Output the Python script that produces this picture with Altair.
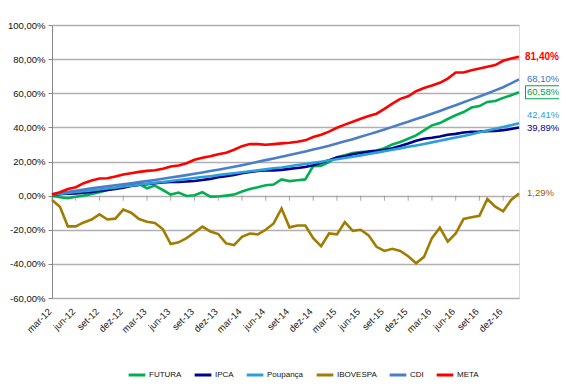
import altair as alt
import pandas as pd

MESES = ["jan", "fev", "mar", "abr", "mai", "jun", "jul", "ago", "set", "out", "nov", "dez"]
months = []
for yy in range(12, 18):
    for mi, m in enumerate(MESES):
        if (yy == 12 and mi < 2) or (yy == 17 and mi > 1):
            continue
        months.append(f"{m}-{yy}")

tick_labels = [m for m in months if m.split("-")[0] in ("mar", "jun", "set", "dez")]

series_names = ["FUTURA", "IPCA", "Poupança", "IBOVESPA", "CDI", "META"]
series_colors = ["#00B050", "#000090", "#2A9FD8", "#A07C00", "#4A7EC8", "#FF0000"]

FUTURA = [0.0, -1.0, -1.5, -0.7, 0.0, 1.0, 2.0, 3.3, 4.5, 5.9, 6.9, 6.9, 4.3, 5.9, 3.3, 0.6,
          1.8, -0.2, 0.2, 2.0, -0.6, -0.5, 0.0, 0.6, 2.4, 3.9, 4.9, 6.1, 6.5, 9.5, 8.5, 9.0,
          9.5, 17.3, 17.6, 19.6, 22.5, 23.7, 24.9, 25.5, 25.9, 26.5, 27.8, 30.0, 31.4, 33.3,
          35.3, 38.2, 41.2, 42.5, 44.9, 47.1, 49.0, 51.6, 52.5, 54.9, 55.5, 57.3, 58.8, 60.58]

IPCA = [0.2, 0.85, 1.2, 1.3, 1.7, 2.1, 2.7, 3.3, 3.9, 4.7, 5.6, 6.2, 6.7, 7.3, 7.7, 8.0,
        8.0, 8.3, 8.6, 9.2, 9.8, 10.8, 11.4, 12.1, 13.1, 13.8, 14.4, 14.8, 14.8, 15.1, 15.7,
        16.2, 16.8, 17.8, 19.3, 20.7, 22.3, 23.1, 24.2, 25.0, 25.8, 26.1, 26.8, 27.8, 29.1,
        30.5, 32.1, 33.3, 33.9, 34.7, 35.7, 36.2, 37.0, 37.4, 37.5, 37.8, 37.9, 38.4, 39.0, 39.89]

POUPANCA = [0.5, 1.0, 1.6, 2.1, 2.6, 3.1, 3.6, 4.2, 4.7, 5.3, 5.8, 6.4, 6.9, 7.5, 8.0, 8.6,
            9.2, 9.7, 10.3, 10.9, 11.4, 12.0, 12.6, 13.1, 13.7, 14.3, 14.8, 15.4, 16.0, 16.5,
            17.2, 17.9, 18.5, 19.2, 19.9, 20.6, 21.3, 22.1, 22.8, 23.6, 24.4, 25.2, 26.0, 26.9,
            27.7, 28.6, 29.4, 30.3, 31.2, 32.2, 33.1, 34.1, 35.0, 36.0, 37.1, 38.1, 39.2, 40.2,
            41.3, 42.41]

IBOVESPA = [-2.5, -6.5, -18.0, -18.0, -15.7, -14.0, -11.0, -14.0, -13.5, -8.2, -10.0, -13.7,
            -15.3, -16.0, -19.6, -28.4, -27.4, -24.9, -21.6, -18.2, -21.0, -22.5, -28.0, -29.0,
            -24.1, -22.2, -22.7, -20.0, -16.3, -7.5, -18.6, -17.5, -17.5, -24.9, -29.6, -22.2,
            -22.7, -15.5, -20.6, -20.0, -23.3, -30.0, -32.4, -31.2, -32.4, -35.5, -39.6, -35.9,
            -24.9, -18.8, -27.0, -22.2, -13.7, -12.7, -11.8, -2.0, -6.5, -9.2, -2.5, 1.29]

CDI = [0.8, 1.5, 2.2, 2.9, 3.6, 4.3, 4.9, 5.5, 6.1, 6.7, 7.3, 7.9, 8.5, 9.2, 9.9, 10.6,
       11.3, 12.0, 12.8, 13.6, 14.4, 15.2, 16.0, 16.9, 17.8, 18.8, 19.8, 20.8, 21.8, 22.8,
       23.8, 24.8, 25.9, 27.0, 28.1, 29.2, 30.5, 31.8, 33.1, 34.5, 35.9, 37.3, 38.8, 40.3,
       41.8, 43.3, 44.9, 46.4, 48.0, 49.6, 51.3, 53.0, 54.7, 56.4, 58.1, 59.9, 61.7, 63.5,
       65.8, 68.1]

META = [0.6, 2.0, 3.9, 4.9, 7.3, 8.8, 10.0, 10.2, 11.2, 12.4, 13.1, 13.9, 14.5, 14.9, 15.7,
        17.1, 17.6, 19.0, 21.0, 22.2, 23.1, 24.3, 25.1, 26.9, 29.0, 30.2, 30.2, 29.8, 30.2,
        30.6, 31.0, 31.6, 32.4, 34.3, 35.7, 37.5, 39.8, 41.6, 43.3, 45.1, 46.7, 48.0, 50.8,
        53.9, 56.7, 58.2, 61.2, 63.1, 64.5, 66.1, 68.6, 72.2, 72.2, 73.5, 74.5, 75.5, 76.5,
        79.0, 80.4, 81.4]

end_labels = ["81,40%", "68,10%", "60,58%", "42,41%", "39,89%", "1,29%"]
end_values = [81.40, 68.10, 60.58, 42.41, 39.89, 1.29]
end_colors = ["#FF0000", "#3F74C5", "#00A050", "#2A9FD8", "#000090", "#9C5A00"]
end_dy = [0, 0, 0, -8, 0, 0]

all_series = [FUTURA, IPCA, POUPANCA, IBOVESPA, CDI, META]
rows = []
for k, (name, vals) in enumerate(zip(series_names, all_series)):
    for m, v in zip(months, vals):
        rows.append({"mes": m, "serie": name, "valor": v, "ordem": k})
df = pd.DataFrame(rows)

ticks_df = pd.DataFrame({"mes": tick_labels, "valor": [0] * len(tick_labels)})
lab_df = pd.DataFrame({"mes": [months[-1]] * len(end_labels), "valor": end_values,
                       "txt": end_labels, "cor": end_colors, "dy": end_dy})
lab_df["valor"] = lab_df["valor"] + lab_df["dy"] * (-20 / 34)

W, H = 467, 273
FONT = "Liberation Sans"

xaxis = alt.Axis(values=tick_labels, labelAngle=-45, domain=False, ticks=False,
                 labelFontSize=9.5, labelColor="#222222", labelPadding=8,
                 labelOffset=-6, labelFont=FONT, grid=False)
xscale = alt.Scale(type="point", padding=0)
yscale = alt.Scale(domain=[-60, 100], nice=False)
yaxis = alt.Axis(values=list(range(-60, 101, 20)),
                 labelExpr="(datum.value < 0 ? '-' : '') + replace(format(abs(datum.value), '.2f'), '.', ',') + '%'",
                 grid=True, gridColor="#B0B0B0", gridWidth=1.5,
                 domainColor="#888888", tickColor="#888888", tickSize=4,
                 labelFontSize=9.5, labelColor="#111111", labelPadding=3,
                 labelFont=FONT, labelOverlap=False)


def X():
    return alt.X("mes:O", sort=months, scale=xscale, title=None, axis=xaxis)


def Y():
    return alt.Y("valor:Q", scale=yscale, title=None, axis=yaxis)


lines = alt.Chart(df).mark_line(strokeWidth=2.6).encode(
    x=X(), y=Y(),
    color=alt.Color("serie:N", sort=series_names,
                    scale=alt.Scale(domain=series_names, range=series_colors),
                    legend=alt.Legend(title=None, orient="none", direction="horizontal",
                                      legendX=75, legendY=340, symbolType="stroke",
                                      symbolStrokeWidth=3, symbolSize=280,
                                      labelFontSize=8, labelFont=FONT, labelColor="#111111",
                                      columnPadding=6, labelOffset=2)),
    order="ordem:Q",
)

ticks = alt.Chart(ticks_df).mark_tick(orient="vertical", size=5, thickness=1, color="#888888",
                                      yOffset=2.5).encode(x=X(), y=Y())

labels_norm = alt.Chart(lab_df[lab_df["txt"] != "81,40%"]).mark_text(
    align="left", baseline="middle", dx=8, fontSize=9.5, font=FONT).encode(
    x=X(), y=Y(), text="txt:N", color=alt.Color("cor:N", scale=None))

labels_bold = alt.Chart(lab_df[lab_df["txt"] == "81,40%"]).mark_text(
    align="left", baseline="middle", dx=6, fontSize=10, fontWeight="bold", font=FONT).encode(
    x=X(), y=Y(), text="txt:N", color=alt.Color("cor:N", scale=None))

box = alt.Chart(lab_df[lab_df["txt"] == "60,58%"]).mark_rect(
    filled=False, stroke="#00A050", strokeWidth=1, width=36, height=13, xOffset=24.5).encode(
    x=X(), y=Y())

chart = alt.layer(lines, ticks, labels_norm, labels_bold, box).properties(
    width=W, height=H, padding={"left": 44, "top": 17, "right": 40, "bottom": 85},
    autosize=alt.AutoSizeParams(type="none"),
    background="white"
).configure_view(stroke="#DDDDDD", strokeWidth=1)

chart.save("out.html", embed_options={"renderer": "svg", "actions": False})
